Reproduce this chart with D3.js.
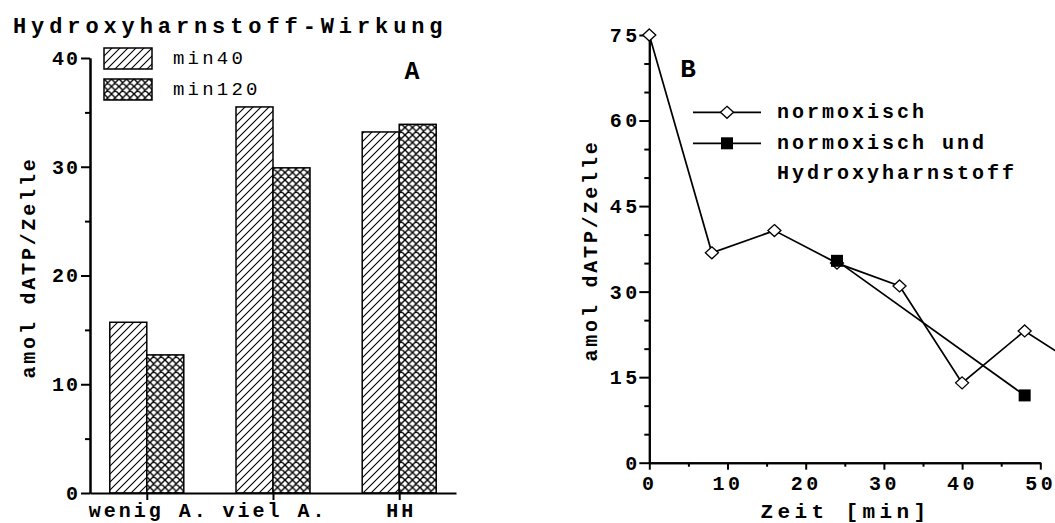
<!DOCTYPE html>
<html>
<head>
<meta charset="utf-8">
<script src="https://cdn.jsdelivr.net/npm/d3@7"></script>
<style>
  body { margin: 0; background: #fff; }
  svg { display: block; }
  text { font-family: "Liberation Mono", "Courier New", monospace; font-weight: bold; fill: #000; }
</style>
</head>
<body>
<div id="chart"></div>
<script>
// panel A: bars
const categories = ["wenig A.", "viel A.", "HH"];
const min40 = [15.7, 35.5, 33.2];
const min120 = [12.7, 29.9, 33.9];
const barSeries = ["min40", "min120"];
const barTicks = [0, 10, 20, 30, 40];

// panel B: time course
const timeNormoxisch = [0, 8, 16, 24, 32, 40, 48, 56];
const normoxisch = [75, 36.8, 40.7, 35.0, 31.0, 14.0, 23.1, 16.0];
const timeHydroxy = [24, 48];
const hydroxy = [35.4, 11.8];
const lineYTicks = [0, 15, 30, 45, 60, 75];
const lineXTicks = [0, 10, 20, 30, 40, 50];
const lineLegend = [["normoxisch"], ["normoxisch und", "Hydroxyharnstoff"]];

const width = 1055, height = 523;

const svg = d3.select("#chart").append("svg")
  .attr("width", width)
  .attr("height", height);

const defs = svg.append("defs");
const hatch = defs.append("pattern").attr("id", "hatch")
  .attr("patternUnits", "userSpaceOnUse").attr("width", 8).attr("height", 8);
hatch.append("rect").attr("width", 8).attr("height", 8).attr("fill", "#fff");
hatch.append("path").attr("d", "M-2,2 L2,-2 M0,8 L8,0 M6,10 L10,6")
  .attr("stroke", "#000").attr("stroke-width", 1.1);
const cross = defs.append("pattern").attr("id", "cross")
  .attr("patternUnits", "userSpaceOnUse").attr("width", 7.5).attr("height", 7.5);
cross.append("rect").attr("width", 7.5).attr("height", 7.5).attr("fill", "#fff");
cross.append("path").attr("d", "M0,0 L7.5,7.5 M7.5,0 L0,7.5 M-1,1 L1,-1 M6.5,8.5 L8.5,6.5")
  .attr("stroke", "#000").attr("stroke-width", 1.4);
const fills = ["url(#hatch)", "url(#cross)"];

// letter-spacing adds a gap after the last glyph too, so shift anchored text back
function styleAxis(g, fontSize, spacing, shift) {
  g.select(".domain").attr("stroke-width", 2);
  g.selectAll(".tick line").attr("stroke-width", 2);
  g.selectAll("text")
    .style("font-size", fontSize + "px")
    .style("letter-spacing", spacing + "px")
    .attr("dx", spacing * shift);
}

// ---------- panel A ----------
const yA = d3.scaleLinear().domain([0, 40]).range([493, 58]);
const xA = d3.scalePoint().domain(categories).range([90, 456]).padding(0.45);
const barW = 37;

const barData = categories.map((c, i) => ({ cat: c, values: [min40[i], min120[i]] }));

svg.append("g")
  .selectAll("g")
  .data(barData)
  .enter().append("g")
  .selectAll("rect")
  .data(d => d.values.map((v, j) => ({ cat: d.cat, v: v, j: j })))
  .enter().append("rect")
  .attr("x", d => xA(d.cat) + (d.j === 0 ? -barW : 0))
  .attr("y", d => yA(d.v))
  .attr("width", barW)
  .attr("height", d => yA(0) - yA(d.v))
  .attr("fill", d => fills[d.j])
  .attr("stroke", "#000")
  .attr("stroke-width", 1.5);

svg.append("g")
  .attr("transform", "translate(90,0)")
  .call(d3.axisLeft(yA).tickValues(d3.range(5, 40, 10)).tickSize(5).tickFormat("").tickSizeOuter(0))
  .call(g => styleAxis(g, 20, 2, 1));

svg.append("g")
  .attr("transform", "translate(90,0)")
  .call(d3.axisLeft(yA).tickValues(barTicks).tickSize(9).tickPadding(3).tickSizeOuter(0))
  .call(g => styleAxis(g, 20, 2, 1));

svg.append("g")
  .attr("transform", "translate(0,493)")
  .call(d3.axisBottom(xA).tickSize(7).tickSizeOuter(0))
  .call(g => styleAxis(g, 20, 3, 0.5))
  .call(g => g.selectAll("text").attr("y", 24).attr("dy", null));

svg.append("text")
  .attr("x", 13).attr("y", 33)
  .style("font-size", "22px").style("letter-spacing", "4.9px")
  .text("Hydroxyharnstoff-Wirkung");

svg.append("text")
  .attr("x", 412).attr("y", 78.5)
  .attr("text-anchor", "middle")
  .style("font-size", "25px")
  .text("A");

svg.append("text")
  .attr("transform", "translate(35,269) rotate(-90)")
  .attr("text-anchor", "middle")
  .attr("dx", 1.5)
  .style("font-size", "20px").style("letter-spacing", "2.8px")
  .text("amol dATP/Zelle");

const legendA = svg.append("g")
  .selectAll("g")
  .data(barSeries)
  .enter().append("g")
  .attr("transform", (d, i) => `translate(104,${48 + i * 31})`);
legendA.append("rect")
  .attr("width", 48).attr("height", 21)
  .attr("fill", (d, i) => fills[i])
  .attr("stroke", "#000").attr("stroke-width", 1.5);
legendA.append("text")
  .attr("x", 69).attr("y", 16)
  .style("font-size", "19px").style("font-weight", "normal").style("letter-spacing", "3.2px")
  .text(d => d);

// ---------- panel B ----------
const xB = d3.scaleLinear().domain([0, 50]).range([649.3, 1040.3]);
const yB = d3.scaleLinear().domain([0, 75]).range([462.7, 35]);

svg.append("g")
  .attr("transform", "translate(649.3,0)")
  .call(d3.axisLeft(yB).tickValues(d3.range(5, 75, 5).filter(v => v % 15)).tickSize(5).tickFormat("").tickSizeOuter(0))
  .call(g => styleAxis(g, 20, 3.5, 1));

svg.append("g")
  .attr("transform", "translate(649.3,0)")
  .call(d3.axisLeft(yB).tickValues(lineYTicks).tickSize(10).tickPadding(2).tickSizeOuter(0))
  .call(g => styleAxis(g, 20, 3.5, 1));

svg.append("g")
  .attr("transform", "translate(0,462.7)")
  .call(d3.axisBottom(xB).tickValues([5, 15, 25, 35, 45]).tickSize(4).tickFormat("").tickSizeOuter(0))
  .call(g => styleAxis(g, 20, 3.5, 0));

svg.append("g")
  .attr("transform", "translate(0,462.7)")
  .call(d3.axisBottom(xB).tickValues(lineXTicks).tickSize(7).tickSizeOuter(0))
  .call(g => styleAxis(g, 20, 3.5, 0))
  .call(g => g.selectAll("text").attr("y", 27).attr("dy", null));

const line = d3.line()
  .x(d => xB(d.t))
  .y(d => yB(d.v));

const normData = timeNormoxisch.map((t, i) => ({ t: t, v: normoxisch[i] }));
const hydroData = timeHydroxy.map((t, i) => ({ t: t, v: hydroxy[i] }));

svg.append("path").datum(normData)
  .attr("d", line).attr("fill", "none").attr("stroke", "#000").attr("stroke-width", 1.7);
svg.append("path").datum(hydroData)
  .attr("d", line).attr("fill", "none").attr("stroke", "#000").attr("stroke-width", 1.7);

const diamond = "M0,-6 L6.5,0 L0,6 L-6.5,0 Z";

svg.append("g").selectAll("path")
  .data(normData)
  .enter().append("path")
  .attr("d", diamond)
  .attr("transform", d => `translate(${xB(d.t)},${yB(d.v)})`)
  .attr("fill", "#fff").attr("stroke", "#000").attr("stroke-width", 1.3);

svg.append("g").selectAll("rect")
  .data(hydroData)
  .enter().append("rect")
  .attr("x", d => xB(d.t) - 6).attr("y", d => yB(d.v) - 6)
  .attr("width", 12).attr("height", 12)
  .attr("fill", "#000");

svg.append("text")
  .attr("x", 688).attr("y", 76.7)
  .attr("text-anchor", "middle")
  .style("font-size", "26px")
  .text("B");

svg.append("text")
  .attr("transform", "translate(597,252) rotate(-90)")
  .attr("text-anchor", "middle")
  .attr("dx", 1.5)
  .style("font-size", "20px").style("letter-spacing", "2.8px")
  .text("amol dATP/Zelle");

svg.append("text")
  .attr("x", 843).attr("y", 518)
  .attr("text-anchor", "middle")
  .attr("dx", 2.5)
  .style("font-size", "21px").style("letter-spacing", "4.4px")
  .text("Zeit [min]");

const legendB = svg.append("g")
  .selectAll("g")
  .data(lineLegend)
  .enter().append("g")
  .attr("transform", (d, i) => `translate(693,${112.3 + i * 31})`);
legendB.append("line")
  .attr("x1", 0).attr("x2", 68)
  .attr("stroke", "#000").attr("stroke-width", 1.7);
legendB.filter((d, i) => i === 0).append("path")
  .attr("d", diamond).attr("transform", "translate(34,0)")
  .attr("fill", "#fff").attr("stroke", "#000").attr("stroke-width", 1.3);
legendB.filter((d, i) => i === 1).append("rect")
  .attr("x", 28).attr("y", -6).attr("width", 12).attr("height", 12)
  .attr("fill", "#000");
legendB.append("text")
  .attr("x", 84).attr("y", 5.5)
  .style("font-size", "20px").style("letter-spacing", "3px")
  .selectAll("tspan")
  .data(d => d)
  .enter().append("tspan")
  .attr("x", 84)
  .attr("dy", (d, i) => i === 0 ? 0 : 30)
  .text(d => d);
</script>
</body>
</html>
